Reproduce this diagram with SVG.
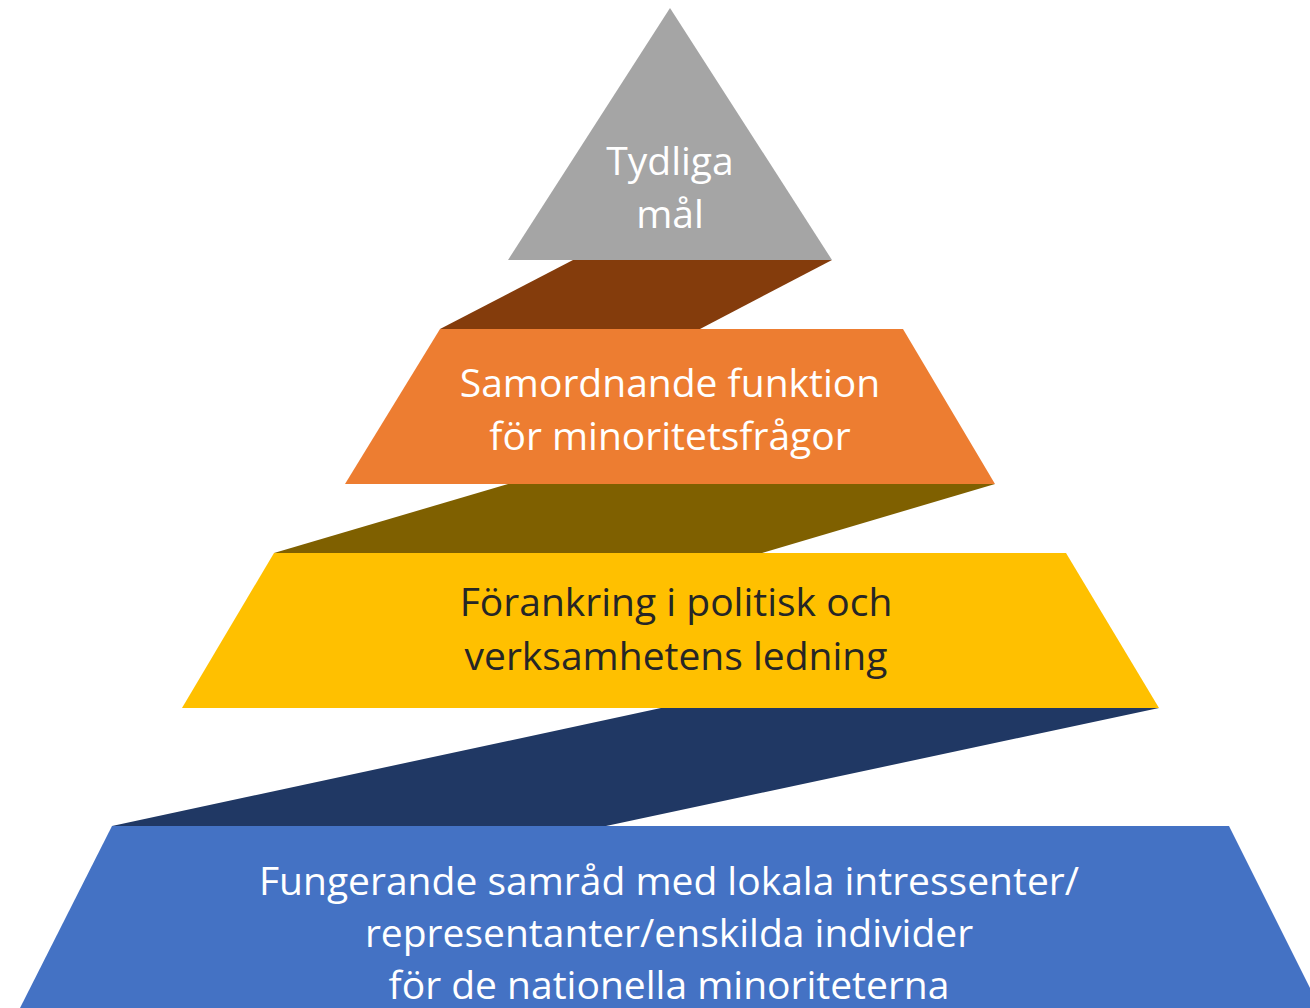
<svg xmlns="http://www.w3.org/2000/svg" width="1310" height="1008" viewBox="0 0 1310 1008">
<style>
.t{font-family:"Open Sans","Noto Sans","Liberation Sans",sans-serif;font-size:39px;text-anchor:middle}
.w{fill:#FFFFFF}
.d{fill:#262626}
</style>
<rect width="1310" height="1008" fill="#FFFFFF"/>
<g id="connectors">
<polygon points="573,260 832,260 700,329 440,329" fill="#843C0C"/>
<polygon points="508,484 995,484 762,553 274,553" fill="#7F6000"/>
<polygon points="661,708 1159,708 606,826 112,826" fill="#203864"/>
</g>
<g id="node-mal">
<polygon points="670,8 832,260 508,260" fill="#A5A5A5"/>
<text class="t w" x="670" y="175">Tydliga</text>
<text class="t w" x="670" y="228">mål</text>
</g>
<g id="node-samordnande">
<polygon points="440,329 903,329 995,484 345,484" fill="#ED7D31"/>
<text class="t w" x="670" y="397">Samordnande funktion</text>
<text class="t w" x="670" y="450">för minoritetsfrågor</text>
</g>
<g id="node-forankring">
<polygon points="274,553 1066,553 1159,708 182,708" fill="#FFC000"/>
<text class="t d" x="676" y="616">Förankring i politisk och</text>
<text class="t d" x="676" y="670">verksamhetens ledning</text>
</g>
<g id="node-samrad">
<polygon points="112,826 1229,826 1320,1008 20,1008" fill="#4472C4"/>
<text class="t w" x="669" y="895">Fungerande samråd med lokala intressenter/</text>
<text class="t w" x="669" y="947">representanter/enskilda individer</text>
<text class="t w" x="669" y="999">för de nationella minoriteterna</text>
</g>
</svg>
